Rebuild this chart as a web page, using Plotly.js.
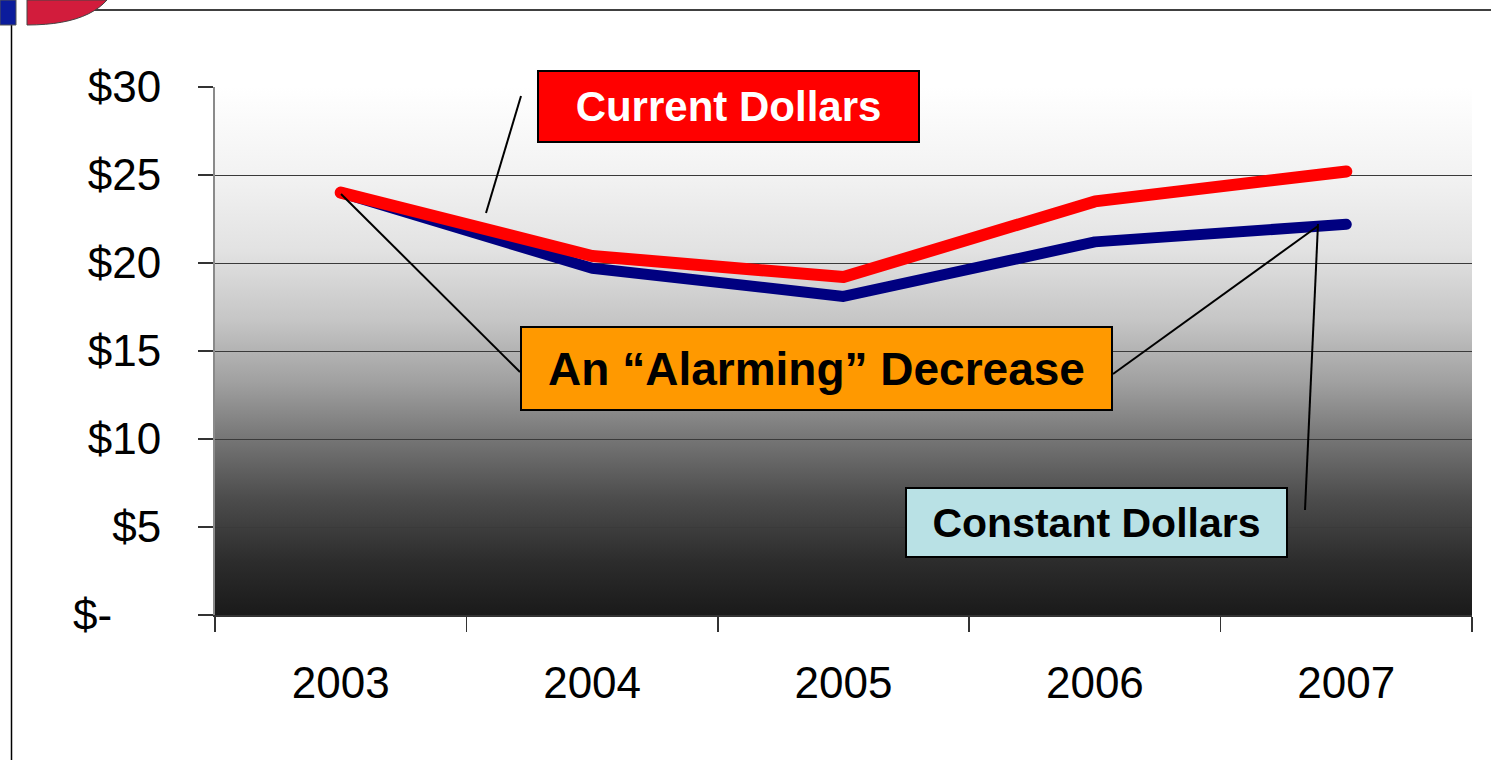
<!DOCTYPE html>
<html>
<head>
<meta charset="utf-8">
<script src="https://cdn.plot.ly/plotly-3.0.1.min.js"></script>
<style>html,body{margin:0;padding:0;background:#fff;}#chart{width:1491px;height:760px;}</style>
</head>
<body>
<div id="chart"></div>
<script>
// ---- data ----
const years = ["2003", "2004", "2005", "2006", "2007"];
const currentDollars = [24.0, 20.4, 19.2, 23.5, 25.2];
const constantDollars = [24.0, 19.7, 18.1, 21.2, 22.2];
const yTickVals = [0, 5, 10, 15, 20, 25, 30];
const yTickText = ["$-\u2007\u2007", "$5", "$10", "$15", "$20", "$25", "$30"];

// ---- layout helpers (pixel -> paper) ----
const W = 1491, H = 760, ML = 215, MR = 19, MT = 87, MB = 145;
const PW = W - ML - MR, PH = H - MT - MB;
const X = p => (p - ML) / PW;
const Y = p => (H - MB - p) / PH;

const gradSvg = '<svg xmlns="http://www.w3.org/2000/svg" width="100" height="100" preserveAspectRatio="none">' +
  '<defs><linearGradient id="g" x1="0" y1="0" x2="0" y2="1">' +
  '<stop offset="0" stop-color="#ffffff"/>' +
  '<stop offset="0.17" stop-color="#f2f2f2"/>' +
  '<stop offset="0.31" stop-color="#e2e2e2"/>' +
  '<stop offset="0.44" stop-color="#c6c6c6"/>' +
  '<stop offset="0.56" stop-color="#a0a0a0"/>' +
  '<stop offset="0.67" stop-color="#747474"/>' +
  '<stop offset="0.78" stop-color="#4c4c4c"/>' +
  '<stop offset="0.9" stop-color="#2c2c2c"/>' +
  '<stop offset="1" stop-color="#1a1a1a"/>' +
  '</linearGradient></defs><rect x="0" y="0" width="100" height="100" fill="url(#g)"/></svg>';
const gradSrc = 'data:image/svg+xml;base64,' + btoa(gradSvg);

const traces = [
  {x: years, y: constantDollars, type: 'scatter', mode: 'lines', name: 'Constant Dollars',
   line: {color: '#000080', width: 11}},
  {x: years, y: currentDollars, type: 'scatter', mode: 'lines', name: 'Current Dollars',
   line: {color: '#ff0000', width: 12}}
];

function seg(x0, y0, x1, y1) {
  return {type: 'line', xref: 'paper', yref: 'paper', x0: X(x0), y0: Y(y0), x1: X(x1), y1: Y(y1),
          line: {color: '#000000', width: 2}, layer: 'above'};
}
function pathPx(pts) {
  return 'M ' + pts.map(p => X(p[0]) + ',' + Y(p[1])).join(' L ') + ' Z';
}
// logo curve points
const logoPts = [[27,0],[27,25]];
for (let i = 1; i <= 12; i++) {
  const t = i / 12;
  const xx = (1-t)*(1-t)*27 + 2*(1-t)*t*85 + t*t*107;
  const yy = (1-t)*(1-t)*25 + 2*(1-t)*t*25 + t*t*0;
  logoPts.push([xx, yy]);
}

const shapes = [
  // frame lines
  {type: 'line', xref: 'paper', yref: 'paper', x0: X(85), y0: Y(10), x1: X(1491), y1: Y(10), line: {color: '#000', width: 1.5}},
  {type: 'line', xref: 'paper', yref: 'paper', x0: X(11.5), y0: Y(25), x1: X(11.5), y1: Y(760), line: {color: '#000', width: 1.5}},
  // logo fragments
  {type: 'rect', xref: 'paper', yref: 'paper', x0: X(0), y0: Y(0), x1: X(16), y1: Y(25), fillcolor: '#0b1c9c', line: {color: '#555', width: 1}},
  {type: 'path', xref: 'paper', yref: 'paper', path: pathPx(logoPts), fillcolor: '#d21c3c', line: {color: '#444', width: 1}},
  // connectors
  seg(521, 96, 486, 213),
  seg(341, 194, 520, 372),
  seg(1113, 374, 1318, 226),
  seg(1305, 510, 1318, 224)
];

const boxFont = 'Liberation Sans, Arial, sans-serif';
const annotations = [
  {xref: 'paper', yref: 'paper', x: X(728.5), y: Y(106.5), xanchor: 'center', yanchor: 'middle',
   text: '<b>Current Dollars</b>', showarrow: false, width: 379, height: 69,
   bgcolor: '#ff0000', bordercolor: '#000000', borderwidth: 2, borderpad: 0,
   font: {family: boxFont, size: 42, color: '#ffffff'}},
  {xref: 'paper', yref: 'paper', x: X(816.5), y: Y(368.5), xanchor: 'center', yanchor: 'middle',
   text: '<b>An \u201cAlarming\u201d Decrease</b>', showarrow: false, width: 589, height: 81,
   bgcolor: '#ff9900', bordercolor: '#000000', borderwidth: 2, borderpad: 0,
   font: {family: boxFont, size: 46, color: '#000000'}},
  {xref: 'paper', yref: 'paper', x: X(1096.5), y: Y(522.5), xanchor: 'center', yanchor: 'middle',
   text: '<b>Constant Dollars</b>', showarrow: false, width: 379, height: 67,
   bgcolor: '#b9e1e5', bordercolor: '#000000', borderwidth: 2, borderpad: 0,
   font: {family: boxFont, size: 41, color: '#000000'}}
];

const layout = {
  width: W, height: H,
  margin: {l: ML, r: MR, t: MT, b: MB, pad: 0},
  paper_bgcolor: '#ffffff',
  plot_bgcolor: 'rgba(0,0,0,0)',
  showlegend: false,
  hovermode: false,
  font: {family: 'Liberation Sans, Arial, sans-serif', color: '#000'},
  images: [{source: gradSrc, xref: 'paper', yref: 'paper', x: 0, y: 1, sizex: 1, sizey: 1,
            sizing: 'stretch', xanchor: 'left', yanchor: 'top', layer: 'below'}],
  xaxis: {
    type: 'category', categoryarray: years, range: [-0.5, 4.5],
    showgrid: false, zeroline: false,
    showline: true, linecolor: '#333333', linewidth: 2,
    ticks: 'outside', tickson: 'boundaries', ticklen: 15, tickwidth: 1.5, tickcolor: '#333333',
    tickfont: {size: 44, color: '#000'}, ticklabelstandoff: 28,
    fixedrange: true
  },
  yaxis: {
    range: [0, 30], tickvals: yTickVals, ticktext: yTickText,
    showgrid: true, gridcolor: '#3a3a3a', gridwidth: 1,
    zeroline: false,
    showline: true, linecolor: '#8a8a8a', linewidth: 2,
    ticks: 'outside', ticklen: 15, tickwidth: 1.5, tickcolor: '#333333',
    tickfont: {size: 44, color: '#000'}, ticklabelstandoff: 28,
    fixedrange: true
  },
  shapes: shapes,
  annotations: annotations
};

Plotly.newPlot('chart', traces, layout, {displayModeBar: false, staticPlot: true}).then(gd => {
  gd.querySelectorAll('.scatterlayer path.js-line').forEach(p => {
    p.style.strokeLinecap = 'round';
    p.style.strokeLinejoin = 'round';
  });
});
</script>
</body>
</html>
